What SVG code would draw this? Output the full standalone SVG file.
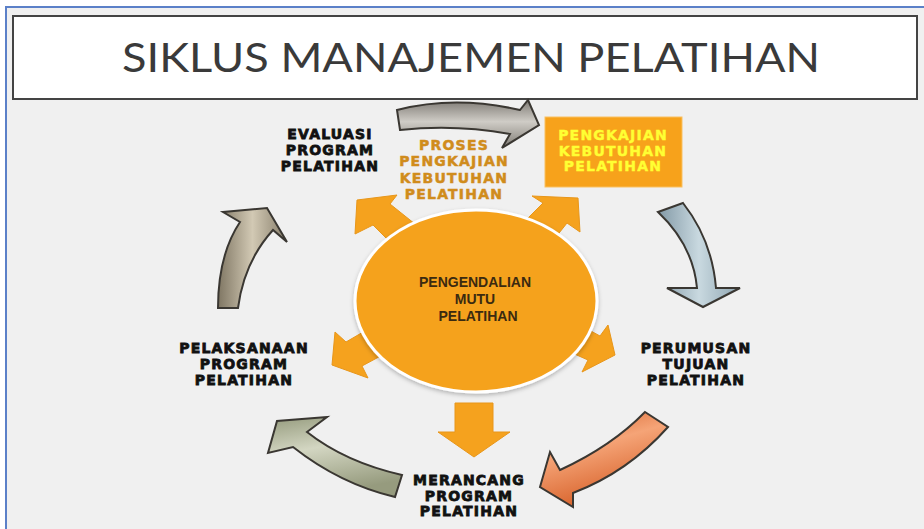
<svg xmlns="http://www.w3.org/2000/svg" width="924" height="529" viewBox="0 0 924 529">
<defs>
<style>
.lbl{font-family:"DejaVu Sans",Verdana,sans-serif;font-weight:bold;font-size:14px;letter-spacing:1.2px;text-anchor:middle}
.blk{fill:#111;stroke:#111;stroke-width:0.8}
.org{fill:#d08c1c;stroke:#d08c1c;stroke-width:0.5}
.yel{fill:#ffff33;stroke:#ffff33;stroke-width:0.4}
.ctr{font-family:"Liberation Sans",Arial,sans-serif;font-weight:bold;font-size:14px;fill:#3b2a10;text-anchor:middle}
.big{stroke:#3a3732;stroke-width:2;stroke-linejoin:miter}
.sm{fill:#f5a21e;stroke:#e8961a;stroke-width:1}
</style>
<linearGradient id="gGray" x1="0" y1="0" x2="0" y2="1">
<stop offset="0" stop-color="#7e7a74"/><stop offset="0.45" stop-color="#cfccc6"/><stop offset="1" stop-color="#7f7b74"/>
</linearGradient>
<linearGradient id="gBlue" x1="0" y1="0" x2="1" y2="0">
<stop offset="0" stop-color="#8299a6"/><stop offset="0.5" stop-color="#c9d9e0"/><stop offset="1" stop-color="#8ea5b1"/>
</linearGradient>
<linearGradient id="gOrange" x1="0" y1="0" x2="0.4" y2="1">
<stop offset="0" stop-color="#d45a22"/><stop offset="0.45" stop-color="#f5a477"/><stop offset="1" stop-color="#d65f27"/>
</linearGradient>
<linearGradient id="gGreen" x1="0" y1="0" x2="0.3" y2="1">
<stop offset="0" stop-color="#949a7c"/><stop offset="0.45" stop-color="#d3d6c2"/><stop offset="1" stop-color="#969b7e"/>
</linearGradient>
<linearGradient id="gBrown" x1="0" y1="0" x2="1" y2="0">
<stop offset="0" stop-color="#7f7663"/><stop offset="0.5" stop-color="#d2c9b4"/><stop offset="1" stop-color="#857c69"/>
</linearGradient>
<filter id="sh" x="-10%" y="-10%" width="120%" height="125%">
<feDropShadow dx="0" dy="2" stdDeviation="2" flood-color="#000" flood-opacity="0.25"/>
</filter>
</defs>

<rect x="0" y="0" width="924" height="529" fill="#ffffff"/>
<rect x="6" y="7" width="918" height="522" fill="#f0f0f0"/>
<path d="M6,529 V7 H924" fill="none" stroke="#5b80c8" stroke-width="2"/>

<g id="title">
<rect x="13" y="16" width="904" height="83" fill="#ffffff" stroke="#444" stroke-width="2"/>
<text x="122" y="72" textLength="698" lengthAdjust="spacingAndGlyphs" font-family="Lato,'Open Sans',sans-serif" font-size="40" fill="#3a3a3a">SIKLUS MANAJEMEN PELATIHAN</text>
</g>

<g id="connectors">
<path class="big" fill="url(#gGray)" d="M397,110 Q455,95 520,110 L528,100 L539,125 L502,148 L510,134 Q455,124 400,130 Z"/>
<path class="big" fill="url(#gBlue)" d="M658,212 L683,203 Q712,240 716,288 L740,288 L703,307 L667,288 L697,288 Q693,245 658,212 Z"/>
<path class="big" fill="url(#gOrange)" d="M645,412 L668,427 Q628,472 573,493 L573,507 L540,487 L550,452 L560,470 Q612,446 645,412 Z"/>
<path class="big" fill="url(#gGreen)" d="M402,475 Q345,462 307,432 L327,417 L277,421 L268,453 L293,447 Q340,484 395,497 Z"/>
<path class="big" fill="url(#gBrown)" d="M218,308 Q218,255 240,222 L223,212 L267,208 L287,242 L273,230 Q244,262 238,308 Z"/>
</g>

<g id="small-arrows">
<polygon class="sm" points="357,200 397,195 390,204 415,224 394,246 373,225 355,234"/>
<polygon class="sm" points="578,198 580,232 567,223 552,242 524,222 543,203 532,196"/>
<polygon class="sm" points="332,365 335,332 346,342 370,328 388,352 362,366 368,378"/>
<polygon class="sm" points="615,355 608,325 600,336 578,324 570,352 588,360 582,372"/>
<polygon class="sm" points="455,403 493,403 493,432 510,432 474,457 438,432 455,432"/>
</g>

<g id="center">
<ellipse cx="476" cy="301" rx="121" ry="91" fill="#f5a21e" stroke="#ffffff" stroke-width="3" filter="url(#sh)"/>
<text class="ctr" x="475" y="287">PENGENDALIAN</text>
<text class="ctr" x="475" y="304">MUTU</text>
<text class="ctr" x="478" y="321">PELATIHAN</text>
</g>

<g id="evaluasi">
<text class="lbl blk" x="330" y="139">EVALUASI</text>
<text class="lbl blk" x="330" y="155">PROGRAM</text>
<text class="lbl blk" x="330" y="171">PELATIHAN</text>
</g>

<g id="proses">
<text class="lbl org" x="454" y="150">PROSES</text>
<text class="lbl org" x="454" y="166">PENGKAJIAN</text>
<text class="lbl org" x="454" y="183">KEBUTUHAN</text>
<text class="lbl org" x="454" y="199">PELATIHAN</text>
</g>

<g id="pengkajian">
<rect x="545" y="117" width="137" height="70" fill="#f7a21b" stroke="#f9c060" stroke-width="1"/>
<text class="lbl yel" x="613" y="140">PENGKAJIAN</text>
<text class="lbl yel" x="613" y="156">KEBUTUHAN</text>
<text class="lbl yel" x="613" y="171">PELATIHAN</text>
</g>

<g id="perumusan">
<text class="lbl blk" x="696" y="353">PERUMUSAN</text>
<text class="lbl blk" x="696" y="369">TUJUAN</text>
<text class="lbl blk" x="696" y="385">PELATIHAN</text>
</g>

<g id="merancang">
<text class="lbl blk" x="469" y="485">MERANCANG</text>
<text class="lbl blk" x="469" y="501">PROGRAM</text>
<text class="lbl blk" x="469" y="516">PELATIHAN</text>
</g>

<g id="pelaksanaan">
<text class="lbl blk" x="244" y="353">PELAKSANAAN</text>
<text class="lbl blk" x="244" y="369">PROGRAM</text>
<text class="lbl blk" x="244" y="385">PELATIHAN</text>
</g>
</svg>
